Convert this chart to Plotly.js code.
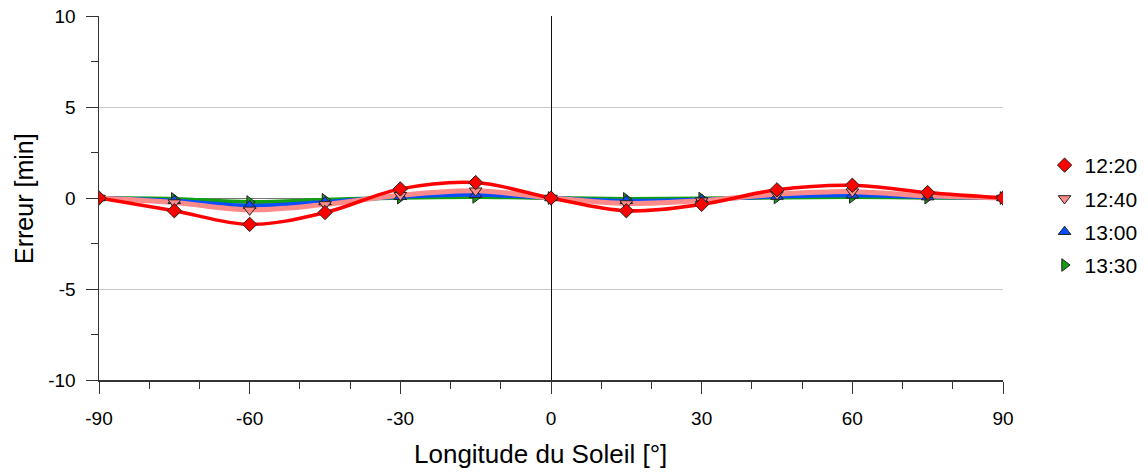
<!DOCTYPE html>
<html>
<head>
<meta charset="utf-8">
<script src="https://cdn.plot.ly/plotly-3.0.1.min.js"></script>
<style>html,body{margin:0;padding:0;background:#fff;}#chart{width:1148px;height:474px;}</style>
</head>
<body>
<div id="chart"></div>
<script>
var longitudes = [-90, -75, -60, -45, -30, -15, 0, 15, 30, 45, 60, 75, 90];
var seriesNames = ["12:20", "12:40", "13:00", "13:30"];
var err1220 = [0, -0.7, -1.45, -0.8, 0.5, 0.85, 0, -0.7, -0.35, 0.45, 0.7, 0.3, 0];
var err1240 = [0, -0.25, -0.65, -0.35, 0.15, 0.4, 0, -0.3, -0.15, 0.2, 0.35, 0.12, 0];
var err1300 = [0, -0.15, -0.42, -0.22, 0.07, 0.18, 0, -0.15, -0.08, 0.08, 0.15, 0.05, 0];
var err1330 = [0, -0.05, -0.22, -0.1, 0.02, 0.06, 0, -0.05, -0.03, 0.03, 0.06, 0.02, 0];
var xTicks = [-90, -60, -30, 0, 30, 60, 90];
var yTicks = [-10, -5, 0, 5, 10];
var xTitle = "Longitude du Soleil [°]";
var yTitle = "Erreur [min]";

var series = [
  {name: seriesNames[0], y: err1220, color: "#ff0000", lw: 3.5, sym: "diamond", msize: 11, rank: 1},
  {name: seriesNames[1], y: err1240, color: "#ff8a8a", lw: 5, sym: "triangle-down", msize: 11, rank: 2},
  {name: seriesNames[2], y: err1300, color: "#0a4cff", lw: 4, sym: "triangle-up", msize: 11, rank: 3},
  {name: seriesNames[3], y: err1330, color: "#11a011", lw: 4, sym: "triangle-right", msize: 11, rank: 4}
];

var traces = [];
for (var i = series.length - 1; i >= 0; i--) {
  var s = series[i];
  traces.push({
    x: longitudes, y: s.y, type: "scatter", mode: "lines",
    line: {color: s.color, width: s.lw, shape: "spline"},
    showlegend: false, hoverinfo: "skip"
  });
}
for (var j = series.length - 1; j >= 0; j--) {
  var m = series[j];
  traces.push({
    x: longitudes, y: m.y, type: "scatter", mode: "markers", name: m.name,
    legendrank: m.rank, legendgroup: m.name,
    marker: {color: m.color, symbol: m.sym, size: m.msize, line: {color: "#222", width: 1}}
  });
}

var layout = {
  width: 1148, height: 474,
  margin: {l: 99, r: 145, t: 16, b: 94, autoexpand: false},
  paper_bgcolor: "#fff", plot_bgcolor: "#fff",
  font: {family: "Liberation Sans, Arial, sans-serif", color: "#000", size: 19},
  showlegend: true,
  legend: {x: 1.046, xanchor: "left", y: 0.452, yanchor: "middle",
           font: {size: 21}, traceorder: "grouped", tracegroupgap: 3,
           bgcolor: "rgba(0,0,0,0)"},
  xaxis: {
    range: [-90, 90], tickvals: xTicks, ticktext: xTicks.map(String),
    tickfont: {size: 19},
    ticks: "outside", ticklen: 12, tickcolor: "#333", tickwidth: 1,
    showline: true, linecolor: "#333", linewidth: 1.5,
    showgrid: false, zeroline: true, zerolinecolor: "#111", zerolinewidth: 1,
    ticklabelstandoff: 9,
    minor: {dtick: 10, tick0: 0, ticks: "outside", ticklen: 7, tickcolor: "#333", showgrid: false},
    fixedrange: true
  },
  yaxis: {
    range: [-10, 10], tickvals: yTicks, ticktext: yTicks.map(String),
    tickfont: {size: 19},
    ticks: "outside", ticklen: 12, tickcolor: "#333", tickwidth: 1,
    showline: true, linecolor: "#333", linewidth: 1.5,
    showgrid: true, gridcolor: "#c8c8c8", gridwidth: 1,
    zeroline: true, zerolinecolor: "#777", zerolinewidth: 1,
    ticklabelstandoff: 6,
    minor: {dtick: 2.5, tick0: 0, ticks: "outside", ticklen: 7, tickcolor: "#333", showgrid: false},
    fixedrange: true
  },
  annotations: [
    {text: xTitle, xref: "paper", yref: "paper", x: 0.488, y: -0.203,
     xanchor: "center", yanchor: "middle", showarrow: false, font: {size: 26}},
    {text: yTitle, xref: "paper", yref: "paper", x: -0.083, y: 0.5,
     xanchor: "center", yanchor: "middle", textangle: -90, showarrow: false, font: {size: 25}}
  ]
};

Plotly.newPlot("chart", traces, layout, {displayModeBar: false, staticPlot: true});
</script>
</body>
</html>
